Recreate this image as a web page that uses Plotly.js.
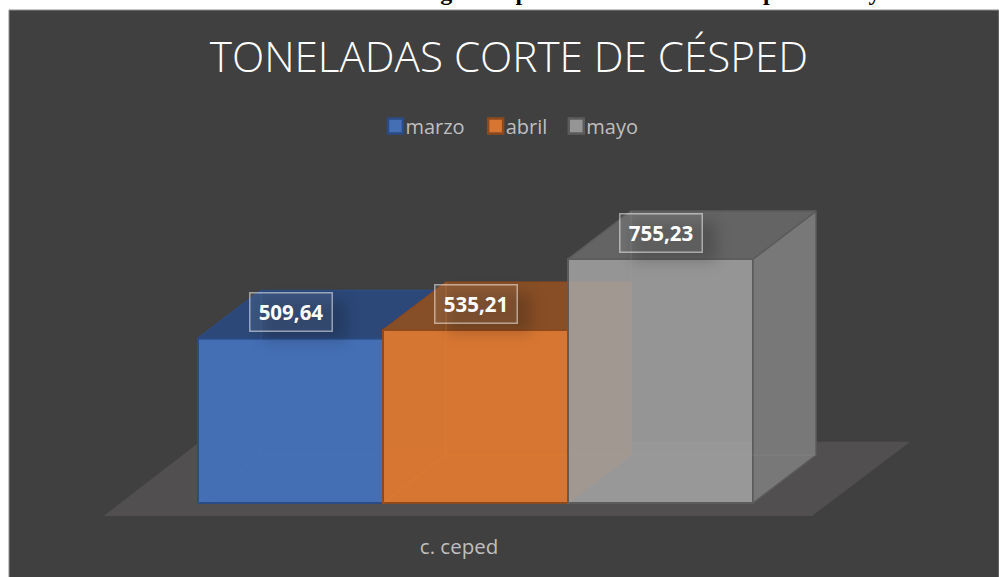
<!DOCTYPE html>
<html>
<head>
<meta charset="utf-8">
<script src="https://cdn.plot.ly/plotly-3.0.1.min.js"></script>
<style>
html,body{margin:0;padding:0;background:#fff;overflow:hidden}
.annotation[data-index="0"] rect.bg,.annotation[data-index="1"] rect.bg,.annotation[data-index="2"] rect.bg{filter:blur(7px)}
</style>
</head>
<body>
<div id="chart" style="width:999px;height:577px"></div>
<script>
// Data
const categories = ['c. ceped'];
const seriesNames = ['marzo', 'abril', 'mayo'];
const marzo = [509.64];
const abril = [535.21];
const mayo = [755.23];
const labels = ['509,64', '535,21', '755,23'];
const chartTitle = 'TONELADAS CORTE DE CÉSPED';
const caption = 'Gráfica 4. Toneladas de las áreas vegetales producto de corte de césped en mayo 2021';

// Styles: front, edge, top, side (per series)
const frontColors = ['rgba(68,112,184,0.98)', 'rgba(220,120,50,0.97)', 'rgba(165,165,165,0.85)'];
const edgeColors = ['#2b4b84', '#8f4a1c', '#5c5c5c'];
const topColors = ['rgba(44,72,120,1)', 'rgba(138,79,37,0.97)', 'rgba(104,104,104,0.9)'];
const sideColors = ['rgba(44,72,120,0.5)', 'rgba(138,79,37,0.97)', 'rgba(122,122,122,0.97)'];
const innerColors = ['rgba(90,130,200,0.15)', 'rgba(235,130,50,0.25)', 'rgba(170,170,170,0.15)'];

// Scene geometry in axis units (one bar is one x unit)
const xRange = [-2.5216, 2.8297];
const yRange = [-83.6, 1526.3];
const depthX = 0.3405, depthY = 148.6;
const catTick = -0.089;
const values = [marzo[0], abril[0], mayo[0]];
const centers = [-1, 0, 1];

const traces = [];
// bar fronts first so they fill the legend
values.forEach((v, i) => {
  const s = String(i + 2);
  traces.push({
    type: 'bar', name: seriesNames[i], x: [centers[i]], y: [v], width: [1],
    xaxis: 'x' + s, yaxis: 'y' + s,
    marker: {color: frontColors[i], line: {color: edgeColors[i], width: 2}},
    hoverinfo: 'name+y'
  });
});
// floor
traces.push({
  type: 'scatter', mode: 'lines', showlegend: false, hoverinfo: 'skip',
  x: [-2.01, 1.82, 2.35, -1.49, -2.01], y: [-40, -40, 190, 190, -40],
  fill: 'toself', fillcolor: '#514f4f', line: {width: 0}, xaxis: 'x', yaxis: 'y'
});
// depth faces
values.forEach((v, i) => {
  const s = String(i + 2);
  const x0 = centers[i] - 0.5, x1 = centers[i] + 0.5;
  const base = {type: 'scatter', mode: 'lines', showlegend: false, hoverinfo: 'skip', xaxis: 'x' + s, yaxis: 'y' + s};
  traces.push(Object.assign({}, base, {
    x: [x1, x1 + depthX, x1 + depthX, x1, x1],
    y: [0, depthY, v + depthY, v, 0],
    fill: 'toself', fillcolor: sideColors[i], line: {color: edgeColors[i], width: 1.5}
  }));
  traces.push(Object.assign({}, base, {
    x: [x0, x1, x1 + depthX, x0 + depthX, x0],
    y: [v, v, v + depthY, v + depthY, v],
    fill: 'toself', fillcolor: topColors[i], line: {color: edgeColors[i], width: 1.5}
  }));
  traces.push(Object.assign({}, base, {
    x: [x0, x0 + depthX, x1 + depthX, null, x0 + depthX, x0 + depthX],
    y: [0, depthY, depthY, null, depthY, v + depthY],
    line: {color: innerColors[i], width: 1.5}
  }));
});

const hiddenAxis = (range, over) => ({
  range: range, overlaying: over, visible: false, fixedrange: true
});

const labelBase = (v, i) => ({
  xref: 'x4', yref: 'y4', x: centers[i], y: v, showarrow: false, width: 81, height: 37
});

const layout = {
  width: 999, height: 577,
  margin: {l: 9, r: 0, t: 10, b: 47, pad: 0},
  paper_bgcolor: '#ffffff', plot_bgcolor: 'rgba(0,0,0,0)',
  barmode: 'overlay', hovermode: false,
  font: {family: '"Open Sans", sans-serif', color: '#bfbfbf'},
  title: {
    text: chartTitle, x: 0.505, xref: 'paper', xanchor: 'center', yref: 'container', y: 0.9, yanchor: 'middle',
    font: {family: '"Open Sans", sans-serif', size: 42.2, color: '#ffffff', weight: 300}
  },
  showlegend: true,
  legend: {
    orientation: 'h', x: 0.357, xanchor: 'left', y: 0.777, yanchor: 'middle',
    bgcolor: 'rgba(0,0,0,0)', font: {size: 20, color: '#bfbfbf'}, itemclick: false, itemdoubleclick: false
  },
  xaxis: {
    type: 'linear', range: xRange, tickmode: 'array', tickvals: [catTick], ticktext: categories,
    showgrid: false, zeroline: false, showline: false, ticks: '', ticklen: 0, ticklabelstandoff: 2, fixedrange: true,
    tickfont: {size: 20.5, color: '#bfbfbf'}
  },
  yaxis: {range: yRange, showgrid: false, zeroline: false, showline: false, showticklabels: false, ticks: '', fixedrange: true},
  xaxis2: hiddenAxis(xRange, 'x'), yaxis2: hiddenAxis(yRange, 'y'),
  xaxis3: hiddenAxis(xRange, 'x'), yaxis3: hiddenAxis(yRange, 'y'),
  xaxis4: hiddenAxis(xRange, 'x'), yaxis4: hiddenAxis(yRange, 'y'),
  shapes: [{
    type: 'rect', xref: 'paper', yref: 'paper', layer: 'below',
    x0: 0, x1: 1, y0: -0.2, y1: 1, fillcolor: '#404040',
    line: {color: '#8c8c8c', width: 1}
  }],
  annotations: values.map((v, i) => Object.assign(labelBase(v, i), {
    // soft shadow beneath each data label
    text: ' ', xshift: 14, yshift: 18, bgcolor: 'rgba(0,0,0,0.18)'
  })).concat(values.map((v, i) => Object.assign(labelBase(v, i), {
    yshift: 26, text: '<b>' + labels[i] + '</b>', align: 'center', valign: 'middle',
    font: {family: '"Open Sans", sans-serif', size: 20.5, color: '#ffffff'},
    bgcolor: 'rgba(255,255,255,0.07)', bordercolor: 'rgba(255,255,255,0.5)', borderwidth: 1.5, borderpad: 0
  }))).concat([{
    xref: 'paper', yref: 'paper', x: 0.507, y: 1, yshift: 3, yanchor: 'bottom', xanchor: 'center',
    showarrow: false, text: '<b>' + caption + '</b>',
    font: {family: '"Liberation Serif", serif', size: 24, color: '#000000'}
  }])
};

Plotly.newPlot('chart', traces, layout, {displayModeBar: false}).then(gd => {
  // Excel-style legend: larger swatch right next to its label, entries packed tighter
  const entryShift = [3, -1, -7];
  gd.querySelectorAll('.legend .traces').forEach((el, i) => {
    const m = /translate\(([-\d.]+),\s*([-\d.]+)\)/.exec(el.getAttribute('transform') || '');
    if (m) el.setAttribute('transform', 'translate(' + (parseFloat(m[1]) + entryShift[i]) + ',' + m[2] + ')');
  });
  gd.querySelectorAll('.legend .traces .legendsymbols').forEach(el => {
    el.setAttribute('transform', 'translate(5,0) scale(1.25)');
  });
});
</script>
</body>
</html>
